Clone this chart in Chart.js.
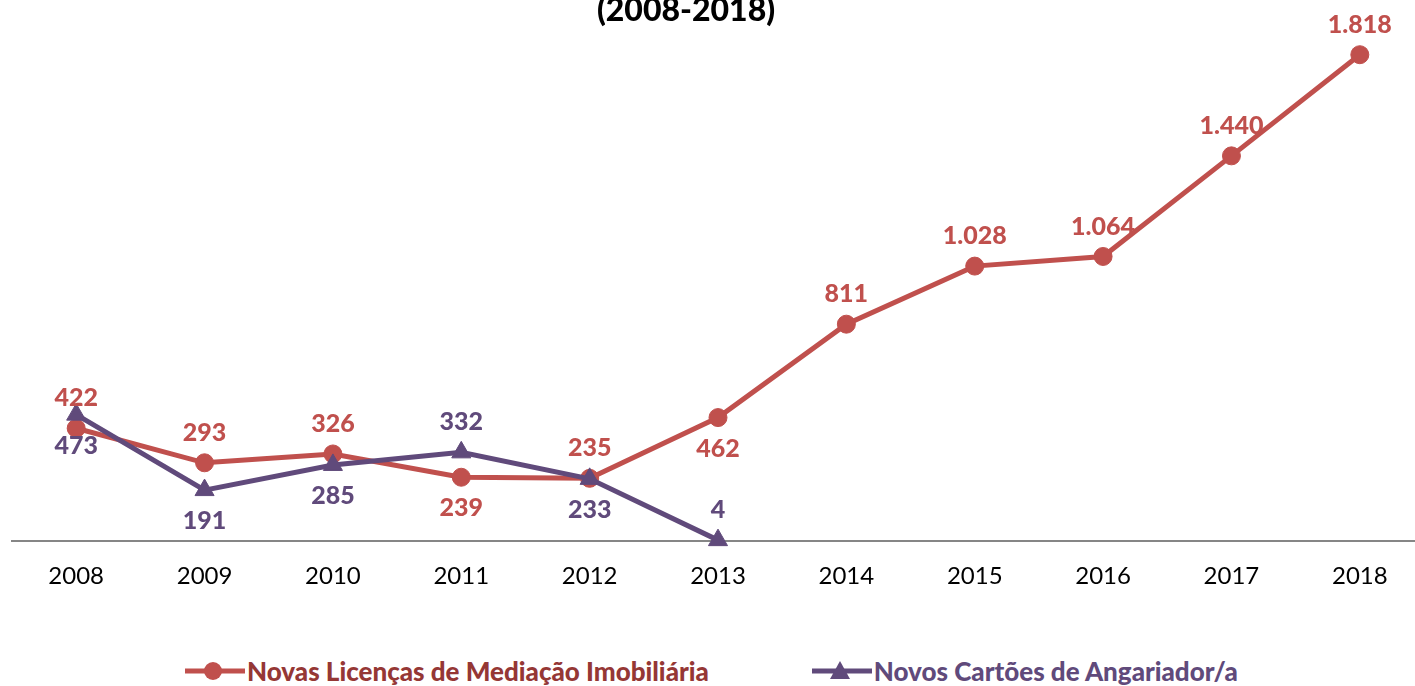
<!DOCTYPE html>
<html>
<head>
<meta charset="utf-8">
<script src="https://cdn.jsdelivr.net/npm/chart.js@4/dist/chart.umd.min.js"></script>
<style>
    html, body {
        margin: 0;
        padding: 0;
        width: 1415px;
        height: 686px;
        overflow: hidden;
        background: #ffffff;
        font-family: Lato, "Noto Sans", sans-serif;
    }
    #wrap {
        position: relative;
        width: 1415px;
        height: 686px;
        overflow: hidden;
    }
    #chartTitle {
        position: absolute;
        left: 0;
        top: -9px;
        width: 1372px;
        text-align: center;
        font-weight: 900;
        font-size: 32px;
        line-height: 36px;
        color: #000000;
    }
    #chartBox {
        position: absolute;
        left: 0;
        top: 0;
        width: 1436px;
        height: 623px;
    }
    #legend {
        position: absolute;
        left: 185px;
        top: 656px;
        display: flex;
        align-items: center;
        gap: 103px;
        font-weight: 900;
        font-size: 26px;
        line-height: 30px;
        white-space: nowrap;
    }
    .legend-item {
        display: flex;
        align-items: center;
    }
    .legend-item canvas {
        margin-right: 2px;
    }
</style>
</head>
<body>
<div id="wrap">
    <div id="chartBox"><canvas id="licencasChart"></canvas></div>
    <div id="chartTitle">(2008-2018)</div>
    <div id="legend"></div>
</div>
<script>
    const anos = ["2008", "2009", "2010", "2011", "2012", "2013", "2014", "2015", "2016", "2017", "2018"];
    const novasLicencas = [422, 293, 326, 239, 235, 462, 811, 1028, 1064, 1440, 1818];
    const novosCartoes = [473, 191, 285, 332, 233, 4, null, null, null, null, null];

    const corLicencas = "#c0504d";
    const corCartoes = "#604a7b";

    // onde fica cada rótulo em relação ao ponto
    const posLicencas = ["top", "top", "top", "bottom", "top", "bottom", "top", "top", "top", "top", "top"];
    const posCartoes = ["bottom", "bottom", "bottom", "top", "bottom", "top"];

    function formatNumber(n) {
        return String(n).replace(/\B(?=(\d{3})+(?!\d))/g, ".");
    }

    const valueLabels = {
        id: "valueLabels",
        afterDatasetsDraw(chart) {
            const ctx = chart.ctx;
            ctx.save();
            ctx.font = "900 25px Lato, 'Noto Sans', sans-serif";
            ctx.textAlign = "center";
            ctx.textBaseline = "middle";
            chart.data.datasets.forEach((ds, i) => {
                const meta = chart.getDatasetMeta(i);
                meta.data.forEach((pt, j) => {
                    const v = ds.data[j];
                    if (v === null || v === undefined) return;
                    const pos = ds.labelPos[j];
                    const dy = pos === "top" ? -30 : 31;
                    ctx.fillStyle = ds.borderColor;
                    ctx.fillText(formatNumber(v), pt.x, pt.y + dy);
                });
            });
            ctx.restore();
        },
    };

    const ctx = document.getElementById("licencasChart").getContext("2d");
    new Chart(ctx, {
        type: "line",
        data: {
            labels: anos,
            datasets: [
                {
                    label: "Novas Licenças de Mediação Imobiliária",
                    data: novasLicencas,
                    labelPos: posLicencas,
                    borderColor: corLicencas,
                    backgroundColor: corLicencas,
                    borderWidth: 5,
                    tension: 0,
                    clip: false,
                    pointStyle: "circle",
                    pointRadius: 9,
                    pointHoverRadius: 9,
                    pointBorderWidth: 1,
                    order: 2,
                },
                {
                    label: "Novos Cartões de Angariador/a",
                    data: novosCartoes,
                    labelPos: posCartoes,
                    borderColor: corCartoes,
                    backgroundColor: corCartoes,
                    borderWidth: 5,
                    tension: 0,
                    clip: false,
                    pointStyle: "triangle",
                    pointRadius: 11,
                    pointHoverRadius: 11,
                    pointBorderWidth: 1,
                    order: 1,
                },
            ],
        },
        options: {
            responsive: true,
            maintainAspectRatio: false,
            animation: false,
            layout: {
                autoPadding: false,
                padding: { top: 6, right: 12, bottom: 11, left: 12 },
            },
            plugins: {
                legend: { display: false },
                title: { display: false },
                tooltip: { enabled: false },
            },
            scales: {
                x: {
                    offset: true,
                    grid: { display: false, drawTicks: false },
                    border: { display: true, color: "#868686", width: 2 },
                    ticks: {
                        color: "#000000",
                        padding: 21,
                        maxRotation: 0,
                        font: { family: "Lato, 'Noto Sans', sans-serif", size: 24 },
                    },
                },
                y: {
                    display: false,
                    min: 0,
                    max: 2000,
                },
            },
        },
        plugins: [valueLabels],
    });

    // legenda com linha + marcador
    function legendIcon(color, style) {
        const c = document.createElement("canvas");
        c.width = 60;
        c.height = 24;
        const g = c.getContext("2d");
        g.strokeStyle = color;
        g.fillStyle = color;
        g.lineWidth = 5;
        g.beginPath();
        g.moveTo(0, 12);
        g.lineTo(60, 12);
        g.stroke();
        g.beginPath();
        if (style === "circle") {
            g.arc(28, 12, 9, 0, Math.PI * 2);
        } else {
            g.moveTo(28, 2);
            g.lineTo(38, 20);
            g.lineTo(18, 20);
            g.closePath();
        }
        g.fill();
        return c;
    }

    const legendItems = [
        { text: "Novas Licenças de Mediação Imobiliária", line: corLicencas, textColor: "#953735", style: "circle" },
        { text: "Novos Cartões de Angariador/a", line: corCartoes, textColor: "#604a7b", style: "triangle" },
    ];
    const legendEl = document.getElementById("legend");
    legendItems.forEach((it) => {
        const item = document.createElement("div");
        item.className = "legend-item";
        item.appendChild(legendIcon(it.line, it.style));
        const span = document.createElement("span");
        span.textContent = it.text;
        span.style.color = it.textColor;
        item.appendChild(span);
        legendEl.appendChild(item);
    });
</script>
</body>
</html>
